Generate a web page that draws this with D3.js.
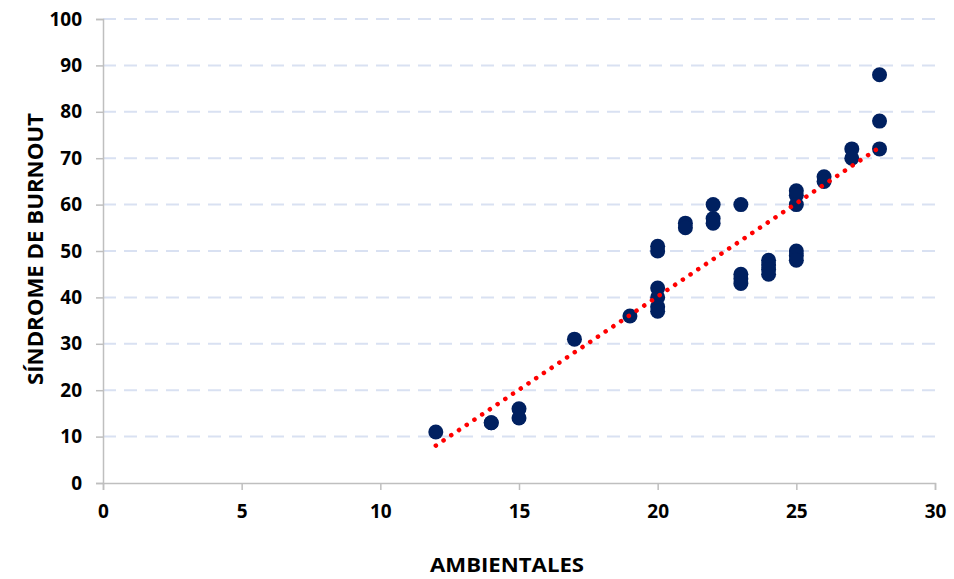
<!DOCTYPE html>
<html>
<head>
<meta charset="utf-8">
<script src="https://cdn.jsdelivr.net/npm/d3@7"></script>
<style>
  body { margin: 0; background: #fff; }
  svg { display: block; }
  text { font-family: "Open Sans", Lato, "Liberation Sans", sans-serif; font-weight: bold; fill: #000; }
</style>
</head>
<body>
<svg id="chart" width="954" height="579"></svg>
<script>
// Data
const ambientales = [12, 14, 14, 15, 15, 17, 19,
  20, 20, 20, 20, 20, 20,
  21, 21, 22, 22, 22,
  23, 23, 23, 23,
  24, 24, 24, 24,
  25, 25, 25, 25, 25, 25,
  26, 26, 27, 27, 28, 28, 28];
const burnout = [11, 13, 13, 16, 14, 31, 36,
  51, 50, 42, 40, 38, 37,
  56, 55, 60, 57, 56,
  60, 45, 44, 43,
  48, 47, 46, 45,
  63, 62, 60, 50, 49, 48,
  66, 65, 72, 70, 88, 78, 72];
const xTicks = [0, 5, 10, 15, 20, 25, 30];
const yTicks = [0, 10, 20, 30, 40, 50, 60, 70, 80, 90, 100];
const xTitle = "AMBIENTALES";
const yTitle = "SÍNDROME DE BURNOUT";

const svg = d3.select("#chart");
const mLeft = 103, mRight = 935, mTop = 19, mBottom = 483;

const x = d3.scaleLinear().domain([0, 30]).range([mLeft, mRight]);
const y = d3.scaleLinear().domain([0, 100]).range([mBottom, mTop]);

// gridlines
svg.append("g").selectAll("line")
  .data(yTicks.filter(d => d > 0))
  .join("line")
  .attr("x1", mLeft).attr("x2", mRight)
  .attr("y1", d => y(d)).attr("y2", d => y(d))
  .attr("stroke", "#d9e1f2").attr("stroke-width", 2)
  .attr("stroke-dasharray", "13,8");

const tickFont = "'Open Sans', Lato, sans-serif";

// y axis
const yAxis = svg.append("g").attr("transform", `translate(${mLeft},0)`)
  .call(d3.axisLeft(y).tickValues(yTicks).tickSize(7).tickPadding(14));
yAxis.select(".domain").attr("stroke", "#bfbfbf").attr("stroke-width", 1.5);
yAxis.selectAll(".tick line").attr("stroke", "#bfbfbf").attr("stroke-width", 1.5);
yAxis.selectAll("text").attr("font-size", 19).style("font-family", tickFont).style("font-weight", "bold").attr("fill", "#000");

// x axis
const xAxis = svg.append("g").attr("transform", `translate(0,${mBottom})`)
  .call(d3.axisBottom(x).tickValues(xTicks).tickSize(7).tickPadding(15));
xAxis.select(".domain").attr("stroke", "#bfbfbf").attr("stroke-width", 1.5);
xAxis.selectAll(".tick line").attr("stroke", "#bfbfbf").attr("stroke-width", 1.5);
xAxis.selectAll("text").attr("font-size", 19).style("font-family", tickFont).style("font-weight", "bold").attr("fill", "#000");

// points
const pts = ambientales.map((a, i) => ({ a, b: burnout[i] }));
svg.append("g").selectAll("circle")
  .data(pts)
  .join("circle")
  .attr("cx", d => x(d.a)).attr("cy", d => y(d.b))
  .attr("r", 7.5).attr("fill", "#002060");

// linear trendline (least squares)
const mx = d3.mean(ambientales), my = d3.mean(burnout);
const slope = d3.sum(pts, d => (d.a - mx) * (d.b - my)) / d3.sum(pts, d => (d.a - mx) ** 2);
const icpt = my - slope * mx;
const [xmin, xmax] = d3.extent(ambientales);
svg.append("line")
  .attr("x1", x(xmin)).attr("y1", y(icpt + slope * xmin))
  .attr("x2", x(xmax)).attr("y2", y(icpt + slope * xmax))
  .attr("stroke", "#ff0000").attr("stroke-width", 4.5)
  .attr("stroke-linecap", "round").attr("stroke-dasharray", "0.1,9.2");

// axis titles
svg.append("text").attr("x", 507).attr("y", 572)
  .attr("text-anchor", "middle").attr("font-size", 20)
  .attr("textLength", 154).attr("lengthAdjust", "spacingAndGlyphs").text(xTitle);
svg.append("text").attr("transform", `translate(43,249) rotate(-90)`)
  .attr("text-anchor", "middle").attr("font-size", 21)
  .attr("textLength", 272).attr("lengthAdjust", "spacingAndGlyphs").text(yTitle);
</script>
</body>
</html>
